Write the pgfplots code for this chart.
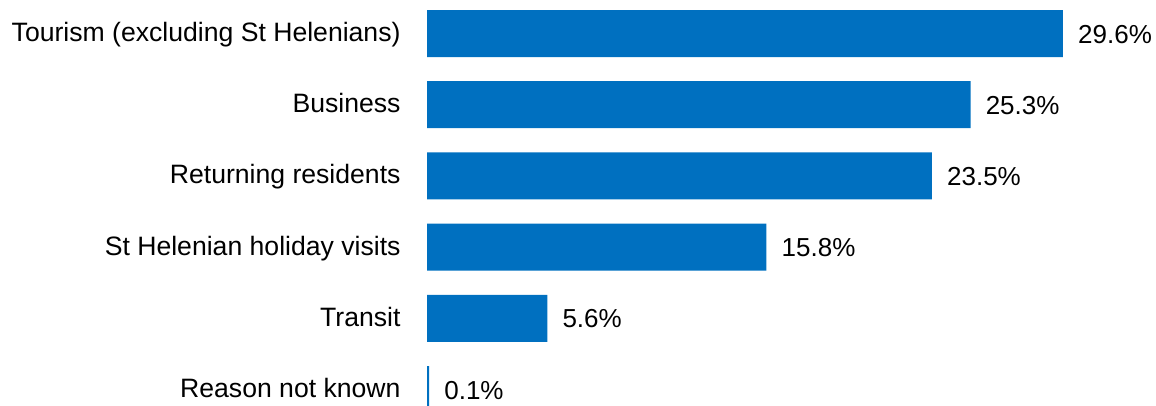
\documentclass[border=0pt]{standalone}
\usepackage{fontspec}
\setmainfont{Liberation Sans}
\usepackage{pgfplots}
\pgfplotsset{compat=1.18}
\definecolor{barblue}{RGB}{0,112,192}
\begin{document}
\fontsize{26.6pt}{31pt}\selectfont
\begin{tikzpicture}
\useasboundingbox (0,0) rectangle (1156pt,405pt);
\begin{axis}[
  at={(427pt,0pt)}, anchor=south west,
  scale only axis, width=729pt, height=405pt,
  xbar, bar width=47pt,
  xmin=0, xmax=33.93,
  y dir=reverse, ymin=-0.4705, ymax=5.2177,
  axis line style={draw=none},
  tick style={draw=none},
  xtick=\empty,
  ytick={0,1,2,3,4,5},
  yticklabels={Tourism (excluding St Helenians),Business,Returning residents,St Helenian holiday visits,Transit,Reason not known},
  yticklabel style={anchor=base east, inner sep=0pt, xshift=-22pt, yshift=-8pt, font=\fontsize{26.6pt}{31pt}\selectfont},
  /pgf/number format/assume math mode=true,
  point meta=x,
  nodes near coords={\pgfmathprintnumber[fixed,fixed zerofill,precision=1,assume math mode=true]{\pgfplotspointmeta}\%},
  nodes near coords style={anchor=base west, inner sep=0pt, xshift=15pt, yshift=-9.5pt, font=\fontsize{26pt}{31pt}\selectfont, text=black},
]
\addplot[fill=barblue, draw=none] coordinates {
  (29.6,0) (25.3,1) (23.5,2) (15.8,3) (5.6,4) (0.1,5)
};
\end{axis}
\end{tikzpicture}
\end{document}
